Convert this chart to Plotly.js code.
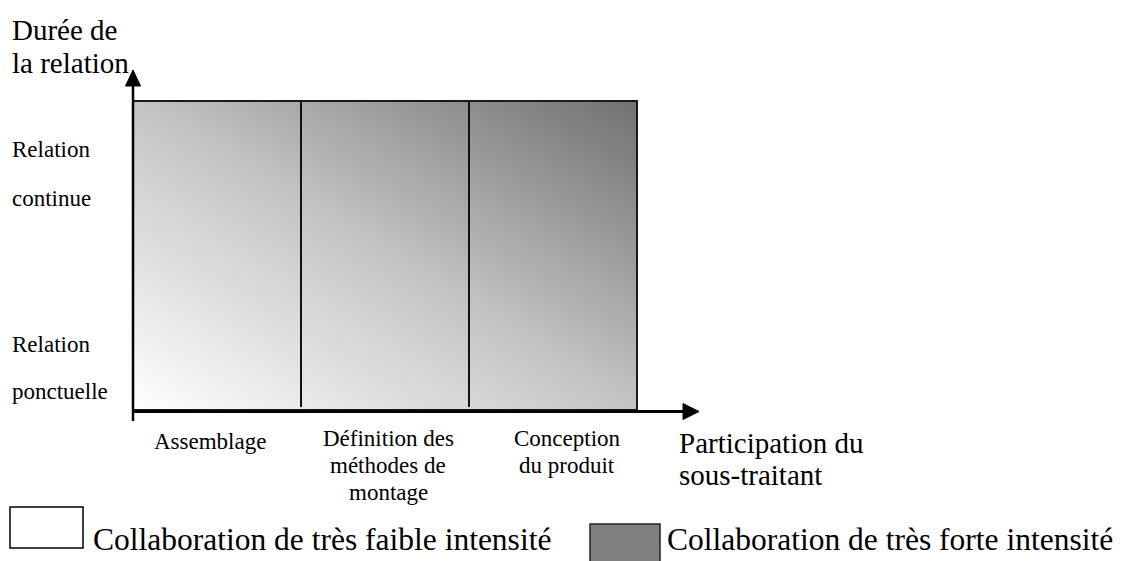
<!DOCTYPE html>
<html>
<head>
<meta charset="utf-8">
<script src="https://cdn.plot.ly/plotly-3.0.1.min.js"></script>
<style>
html, body { margin: 0; padding: 0; background: #ffffff; }
#chart { width: 1125px; height: 561px; }
</style>
</head>
<body>
<div id="chart"></div>
<script>
// ---- data ----
const xCategories = [["Assemblage"], ["Définition des", "méthodes de", "montage"], ["Conception", "du produit"]];
const yLevels = [["Relation", "ponctuelle"], ["Relation", "continue"]];
const xTitle = ["Participation du", "sous-traitant"];
const yTitle = ["Durée de", "la relation"];
const legendLabels = ["Collaboration de très faible intensité", "Collaboration de très forte intensité"];
// collaboration intensity at the corners of the participation × duration plane
const cornerX = [0, 3];
const cornerY = [0, 1];
const intensity = [[0, 1], [1, 2]];

// ---- layout helpers ----
const W = 1125, H = 561;
const L = 133, R = 637, T = 101, B = 410;
const FONT = 'Liberation Serif, Times New Roman, serif';
const px = v => v / W;
const py = v => 1 - v / H;

const annotations = [];
function addLines(lines, opts) {
  lines.forEach((t, i) => {
    annotations.push(Object.assign({
      text: t, showarrow: false, xanchor: opts.xanchor || 'left', yanchor: 'middle',
      font: { family: FONT, size: opts.size, color: '#000' }
    }, opts.pos(i)));
  });
}

// y axis title
addLines(yTitle, { size: 29, pos: i => ({ xref: 'paper', yref: 'paper', x: px(10), y: py([30, 63.5][i]) }) });
// x axis title
addLines(xTitle, { size: 29, pos: i => ({ xref: 'paper', yref: 'paper', x: px(677), y: py([443, 475][i]) }) });
// y levels
const yLevelPos = [[344, 391], [149, 198]];
yLevels.forEach((lv, k) => {
  addLines(lv, { size: 23, pos: i => ({ xref: 'paper', yref: 'paper', x: px(10), y: py(yLevelPos[k][i]) }) });
});
// x categories
const catShift = [-7, 3, 14];
const catTop = [441, 438, 438];
xCategories.forEach((lines, k) => {
  addLines(lines, { size: 23, xanchor: 'center',
    pos: i => ({ xref: 'x', yref: 'paper', x: k + 0.5, xshift: catShift[k], y: py(catTop[k] + i * 27) }) });
});
// legend labels
addLines([legendLabels[0]], { size: 31.5, pos: () => ({ xref: 'paper', yref: 'paper', x: px(91), y: py(539) }) });
addLines([legendLabels[1]], { size: 31.5, pos: () => ({ xref: 'paper', yref: 'paper', x: px(665), y: py(539) }) });

const shapes = [
  // dividers between categories
  ...[1, 2].map(v => ({ type: 'line', xref: 'x', yref: 'y', x0: v, x1: v, y0: 0.01, y1: 1,
    line: { color: '#111', width: 2 } })),
  // rectangle outline
  { type: 'rect', xref: 'x domain', yref: 'y domain', x0: 0, x1: 1, y0: 0, y1: 1,
    line: { color: '#1a1a1a', width: 2 }, fillcolor: 'rgba(0,0,0,0)' },
  // vertical axis
  { type: 'line', xref: 'paper', yref: 'paper', x0: px(133), x1: px(133), y0: py(421), y1: py(84),
    line: { color: '#000', width: 2.5 } },
  { type: 'path', xref: 'paper', yref: 'paper',
    path: `M ${px(125.5)} ${py(86)} L ${px(133)} ${py(70)} L ${px(140.5)} ${py(86)} Z`,
    fillcolor: '#000', line: { color: '#000', width: 1 } },
  // horizontal axis
  { type: 'line', xref: 'paper', yref: 'paper', x0: px(132), x1: px(685), y0: py(411.5), y1: py(411.5),
    line: { color: '#000', width: 3 } },
  { type: 'path', xref: 'paper', yref: 'paper',
    path: `M ${px(683)} ${py(403.5)} L ${px(699)} ${py(411.5)} L ${px(683)} ${py(419.5)} Z`,
    fillcolor: '#000', line: { color: '#000', width: 1 } },
  // legend swatches
  { type: 'rect', xref: 'paper', yref: 'paper', x0: px(10), x1: px(83), y0: py(507), y1: py(548),
    fillcolor: '#ffffff', line: { color: '#000', width: 1.5 } },
  { type: 'rect', xref: 'paper', yref: 'paper', x0: px(590), x1: px(660), y0: py(524), y1: py(564),
    fillcolor: '#808080', line: { color: '#222', width: 1.5 } }
];

const trace = {
  type: 'heatmap', x: cornerX, y: cornerY, z: intensity, zsmooth: 'best',
  colorscale: [[0, '#ffffff'], [0.5, '#c4c4c4'], [1, '#717171']],
  zmin: 0, zmax: 2, showscale: false, hoverinfo: 'skip'
};

const layout = {
  width: W, height: H, margin: { l: 0, r: 0, t: 0, b: 0 },
  paper_bgcolor: '#ffffff', plot_bgcolor: '#ffffff', showlegend: false,
  font: { family: FONT },
  xaxis: { domain: [L / W, R / W], range: [0, 3], visible: false, fixedrange: true },
  yaxis: { domain: [1 - B / H, 1 - T / H], range: [0, 1], visible: false, fixedrange: true },
  shapes: shapes, annotations: annotations
};

Plotly.newPlot('chart', [trace], layout, { displayModeBar: false, staticPlot: true });
</script>
</body>
</html>
